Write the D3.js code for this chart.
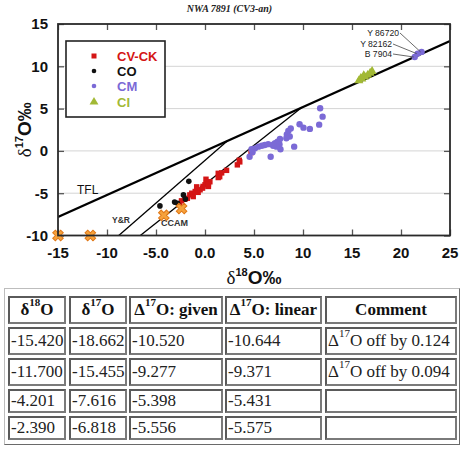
<!DOCTYPE html>
<html>
<head>
<meta charset="utf-8">
<script src="https://cdn.jsdelivr.net/npm/d3@7"></script>
<style>
  html, body { margin: 0; padding: 0; background: #fff; }
  #wrap { position: relative; width: 466px; height: 450px; overflow: hidden; }
  svg { position: absolute; left: 0; top: 0; }
  .cell { position: absolute; box-sizing: border-box; border: 2px solid #7a7a7a; border-top-color: #5a5a5a; border-left-color: #5a5a5a;
          font-family: "Liberation Serif", "Times New Roman", serif; font-size: 17px; color: #222;
          display: flex; align-items: center; padding-left: 1px; white-space: nowrap; }
  .cell.th { font-weight: bold; justify-content: center; padding-left: 0; color: #111; }
  .cell sup { font-size: 11px; line-height: 0; position: relative; top: -2px; vertical-align: super; }
  #tblframe { position: absolute; box-sizing: border-box; border: 1px solid #bdbdbd; border-right-color: #6a6a6a; border-bottom-color: #6a6a6a; }
</style>
</head>
<body>
<div id="wrap"></div>
<script>
// ---------------- data ----------------
const chartTitle = "NWA 7891 (CV3-an)";
const xTicks = [-15, -10, -5, 0, 5, 10, 15, 20, 25];
const xTickLabels = ["-15", "-10", "-5.0", "0.0", "5.0", "10", "15", "20", "25"];
const yTicks = [-10, -5, 0, 5, 10, 15];
const yTickLabels = ["-10", "-5", "0", "5", "10", "15"];
const gridY = [-5, 0, 5, 10];

const seriesNames = ["CV-CK", "CO", "CM", "CI"];
const cvck = [[-2.6,-6.3],[-2.4,-5.9],[-2.05,-5.7],[-1.8,-5.6],[-1.55,-5.2],[-1.35,-5.0],[-1.2,-5.4],[-1.0,-4.8],[-0.7,-4.9],
  [-0.85,-4.25],[-0.5,-4.6],[-0.25,-4.4],[-0.2,-4.2],[0.0,-4.0],[0.15,-3.8],[0.35,-4.2],[0.5,-3.65],[0.1,-3.35],[0.35,-3.9],
  [1.35,-2.65],[1.7,-2.6],[2.2,-2.3],[1.5,-3.05],[1.35,-3.15],[3.3,-1.65],[3.55,-1.3],[3.5,-1.1],[4.7,-0.2]];
const co = [[-4.6,-6.5],[-3.1,-6.05],[-2.8,-6.2],[-2.2,-5.2],[-2.0,-5.7],[-1.65,-3.6]];
const cm = [[11.75,5.05],[12.0,4.05],[11.65,3.1],[10.7,2.6],[10.05,2.75],[9.65,3.15],[8.75,2.65],[8.5,2.35],[8.35,1.95],
  [8.65,1.7],[8.3,1.5],[7.65,1.4],[7.4,1.1],[7.15,0.9],[7.6,0.8],[6.95,0.6],[7.3,0.5],[7.7,0.2],[6.45,0.8],[6.1,0.7],
  [5.8,0.6],[5.45,0.5],[5.1,0.3],[4.75,0.2],[9.1,0.5],[6.7,-0.7],[4.55,-0.7],[4.85,-0.15],[7.0,0.75],
  [21.4,11.1],[21.7,11.5],[22.1,11.7]];
const ci = [[15.7,8.3],[15.9,8.6],[16.0,8.5],[16.3,8.75],[16.2,8.9],[16.6,8.95],[16.85,9.2],[17.05,9.4]];

const calloutNames = ["Y 86720", "Y 82162", "B 7904"];
const calloutPoints = [[22.1,11.7],[21.7,11.5],[21.4,11.1]];

const tflLine = [[-15,-7.8],[25,13.0]];
const yrLine = [[-8.8,-10],[2.3,1.2]];
const ccamLine = [[-6.6,-10],[9.9,5.15]];
const lineNames = ["TFL", "Y&R", "CCAM"];

// table data (also plotted as orange crosses)
const d18O = [-15.420, -11.700, -4.201, -2.390];
const d17O = [-18.662, -15.455, -7.616, -6.818];
const capGiven = [-10.520, -9.277, -5.398, -5.556];
const capLinear = [-10.644, -9.371, -5.431, -5.575];
const offBy = [0.124, 0.094, null, null];
const headers = ["δ<sup>18</sup>O", "δ<sup>17</sup>O", "Δ<sup>17</sup>O: given", "Δ<sup>17</sup>O: linear", "Comment"];

// ---------------- chart ----------------
const W = 466, H = 290;
const wrap = d3.select("#wrap");
const svg = wrap.append("svg").attr("width", W).attr("height", H);

const x = d3.scaleLinear().domain([-15, 25]).range([58, 450]);
const y = d3.scaleLinear().domain([-10, 15]).range([235.5, 24]);

const colors = { "CV-CK": "#d41515", "CO": "#111", "CM": "#7b6ad6", "CI": "#a2b935" };

// title
svg.append("text").attr("x", 229.5).attr("y", 12).attr("text-anchor", "middle")
  .attr("font-family", "Liberation Serif, serif").attr("font-style", "italic").attr("font-weight", "bold")
  .attr("font-size", 10).attr("fill", "#222").text(chartTitle);

// gridlines
svg.append("g").selectAll("line").data(gridY).join("line")
  .attr("x1", x(-15)).attr("x2", x(25)).attr("y1", d => y(d)).attr("y2", d => y(d))
  .attr("stroke", "#d4d4d4").attr("stroke-width", 1);

// clip
svg.append("clipPath").attr("id", "clip").append("rect")
  .attr("x", x(-15)).attr("y", y(15)).attr("width", x(25) - x(-15)).attr("height", y(-10) - y(15));

// axes (inward ticks)
const tickStyle = g => { g.select(".domain").remove(); g.selectAll(".tick line").attr("stroke", "#555").attr("stroke-width", 1.3); g.selectAll("text").remove(); };
svg.append("g").attr("transform", `translate(0,${y(-10)})`).call(d3.axisBottom(x).tickValues(xTicks).tickSizeInner(-6).tickSizeOuter(0)).call(tickStyle);
svg.append("g").attr("transform", `translate(0,${y(15)})`).call(d3.axisTop(x).tickValues(xTicks).tickSizeInner(-6).tickSizeOuter(0)).call(tickStyle);
svg.append("g").attr("transform", `translate(${x(-15)},0)`).call(d3.axisLeft(y).tickValues(yTicks).tickSizeInner(-6).tickSizeOuter(0)).call(tickStyle);
svg.append("g").attr("transform", `translate(${x(25)},0)`).call(d3.axisRight(y).tickValues(yTicks).tickSizeInner(-6).tickSizeOuter(0)).call(tickStyle);

// tick labels
svg.append("g").selectAll("text").data(xTicks).join("text")
  .attr("x", d => x(d)).attr("y", 258).attr("text-anchor", "middle")
  .attr("font-family", "Liberation Sans, Arial, sans-serif").attr("font-weight", "bold").attr("font-size", 15).attr("fill", "#111")
  .text((d, i) => xTickLabels[i]);
svg.append("g").selectAll("text").data(yTicks).join("text")
  .attr("x", 48).attr("y", d => y(d)).attr("dy", "0.36em").attr("text-anchor", "end")
  .attr("font-family", "Liberation Sans, Arial, sans-serif").attr("font-weight", "bold").attr("font-size", 15).attr("fill", "#111")
  .text((d, i) => yTickLabels[i]);

// axis titles
function axisTitle(sel, sup) {
  sel.append("tspan").attr("font-family", "Liberation Serif, serif").attr("font-size", 19).text("δ");
  sel.append("tspan").attr("font-family", "Liberation Sans, Arial, sans-serif").attr("font-weight", "bold").attr("font-size", 11).attr("dy", -8).text(sup);
  sel.append("tspan").attr("font-family", "Liberation Sans, Arial, sans-serif").attr("font-weight", "bold").attr("font-size", 19).attr("dy", 8).text("O‰");
}
svg.append("text").attr("x", (x(-15) + x(25)) / 2).attr("y", 284).attr("text-anchor", "middle").attr("fill", "#111").call(axisTitle, "18");
svg.append("text").attr("transform", `translate(31,${(y(-10) + y(15)) / 2}) rotate(-90)`).attr("text-anchor", "middle").attr("fill", "#111").call(axisTitle, "17");

// reference lines
const lineGen = d3.line().x(d => x(d[0])).y(d => y(d[1]));
const plot = svg.append("g").attr("clip-path", "url(#clip)");
plot.append("path").datum(tflLine).attr("d", lineGen).attr("stroke", "#000").attr("stroke-width", 2.2).attr("fill", "none");
plot.append("path").datum(yrLine).attr("d", lineGen).attr("stroke", "#000").attr("stroke-width", 1.3).attr("fill", "none");
plot.append("path").datum(ccamLine).attr("d", lineGen).attr("stroke", "#000").attr("stroke-width", 1.3).attr("fill", "none");

// line labels
svg.append("text").attr("x", 77).attr("y", 194).attr("font-family", "Liberation Sans, Arial, sans-serif").attr("font-size", 12).attr("fill", "#111").text(lineNames[0]);
svg.append("text").attr("x", 112).attr("y", 223).attr("font-family", "Liberation Sans, Arial, sans-serif").attr("font-weight", "bold").attr("font-size", 8.5).attr("fill", "#333").text(lineNames[1]);
svg.append("text").attr("x", 161).attr("y", 226).attr("font-family", "Liberation Sans, Arial, sans-serif").attr("font-weight", "bold").attr("font-size", 9).attr("fill", "#333").text(lineNames[2]);

// data points
plot.append("g").selectAll("rect").data(cvck).join("rect")
  .attr("x", d => x(d[0]) - 2.7).attr("y", d => y(d[1]) - 2.7).attr("width", 5.4).attr("height", 5.4).attr("fill", colors["CV-CK"]);
plot.append("g").selectAll("circle").data(cm).join("circle")
  .attr("cx", d => x(d[0])).attr("cy", d => y(d[1])).attr("r", 3.2).attr("fill", colors["CM"]);
plot.append("g").selectAll("circle").data(co).join("circle")
  .attr("cx", d => x(d[0])).attr("cy", d => y(d[1])).attr("r", 2.8).attr("fill", colors["CO"]);
const tri = d3.symbol().type(d3.symbolTriangle).size(36);
plot.append("g").selectAll("path").data(ci).join("path")
  .attr("transform", d => `translate(${x(d[0])},${y(d[1])})`).attr("d", tri).attr("fill", colors["CI"]);

// table points as orange crosses (clamped to frame)
const xc = x.copy().clamp(true), yc = y.copy().clamp(true);
const cross = d3.symbol().type(d3.symbolCross).size(70);
svg.append("g").selectAll("path").data(d18O.map((v, i) => [v, d17O[i]])).join("path")
  .attr("transform", d => `translate(${xc(d[0])},${yc(d[1])}) rotate(45)`).attr("d", cross)
  .attr("fill", "#f6a23c").attr("stroke", "#e07818").attr("stroke-width", 1);

// callouts
const labelPos = [[399, 36], [392, 47], [392, 57]];
const co_g = svg.append("g");
calloutNames.forEach((name, i) => {
  const [lx, ly] = labelPos[i];
  co_g.append("line").attr("x1", lx + 1).attr("y1", ly - 3).attr("x2", x(calloutPoints[i][0]) - 1).attr("y2", y(calloutPoints[i][1]))
    .attr("stroke", "#444").attr("stroke-width", 0.8);
  co_g.append("text").attr("x", lx).attr("y", ly).attr("text-anchor", "end")
    .attr("font-family", "Liberation Sans, Arial, sans-serif").attr("font-size", 8.6).attr("fill", "#222").text(name);
});

// frame
svg.append("rect").attr("x", x(-15)).attr("y", y(15)).attr("width", x(25) - x(-15)).attr("height", y(-10) - y(15))
  .attr("fill", "none").attr("stroke", "#2a2a2a").attr("stroke-width", 1.8);

// legend
const lg = svg.append("g");
lg.append("rect").attr("x", 66).attr("y", 41).attr("width", 99).attr("height", 76).attr("fill", "#fff").attr("stroke", "#222").attr("stroke-width", 1.6);
const legendRows = [56, 71, 86, 102];
seriesNames.forEach((name, i) => {
  const cy = legendRows[i];
  if (name === "CV-CK") lg.append("rect").attr("x", 91.5).attr("y", cy - 2.5).attr("width", 5).attr("height", 5).attr("fill", colors[name]);
  else if (name === "CI") lg.append("path").attr("transform", `translate(94,${cy})`).attr("d", d3.symbol().type(d3.symbolTriangle).size(34)).attr("fill", colors[name]);
  else lg.append("circle").attr("cx", 94).attr("cy", cy).attr("r", 2.3).attr("fill", colors[name]);
  lg.append("text").attr("x", 117).attr("y", cy).attr("dy", "0.36em")
    .attr("font-family", "Liberation Sans, Arial, sans-serif").attr("font-weight", "bold").attr("font-size", 13)
    .attr("fill", colors[name]).text(name);
});

// ---------------- table ----------------
wrap.append("div").attr("id", "tblframe").style("left", "4px").style("top", "288px").style("width", "456px").style("height", "157px");
const colX = [8, 69, 129, 225, 325];
const colW = [58, 58, 94, 97, 132];
const rowY = [296, 327, 358, 389, 416];
const rowH = [28, 28, 28, 24, 24];
const fmt = v => v.toFixed(3);
const rows = d18O.map((v, i) => [fmt(v), fmt(d17O[i]), fmt(capGiven[i]), fmt(capLinear[i]),
  offBy[i] == null ? "" : `Δ<sup>17</sup>O off by ${offBy[i].toFixed(3)}`]);
const cells = [];
headers.forEach((h, c) => cells.push({ r: 0, c, html: h, th: true }));
rows.forEach((row, r) => row.forEach((t, c) => cells.push({ r: r + 1, c, html: t, th: false })));
wrap.selectAll("div.cell").data(cells).join("div")
  .attr("class", d => "cell" + (d.th ? " th" : ""))
  .style("left", d => colX[d.c] + "px").style("top", d => rowY[d.r] + "px")
  .style("width", d => colW[d.c] + "px").style("height", d => rowH[d.r] + "px")
  .append("span").html(d => d.html);
</script>
</body>
</html>
